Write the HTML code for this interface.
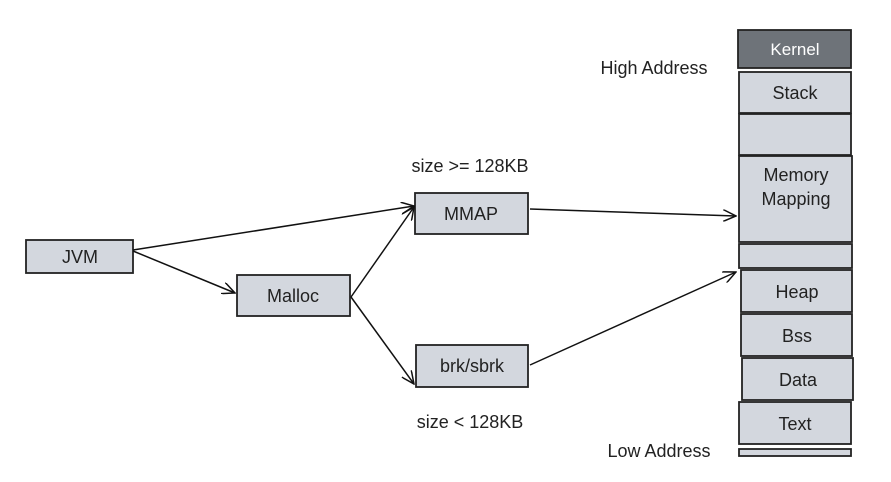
<!DOCTYPE html>
<html><head><style>body{margin:0;background:#fff}svg{display:block}</style></head><body>
<svg width="891" height="482" xmlns="http://www.w3.org/2000/svg" font-family="Liberation Sans, sans-serif" font-size="18" fill="#222">
<defs><marker id="a" markerWidth="14" markerHeight="12" refX="13" refY="6" orient="auto" markerUnits="userSpaceOnUse"><path d="M0,0 L13,6 L0,12" fill="none" stroke="#111" stroke-width="1.5"/></marker></defs>
<g stroke="#222" stroke-width="1.8" fill="#d3d7de">
<rect x="738" y="30" width="113" height="38" fill="#6e7379"/>
<rect x="739" y="72" width="112" height="41"/>
<rect x="739" y="114" width="112" height="41"/>
<rect x="739" y="156" width="113" height="86"/>
<rect x="739" y="244" width="113" height="24"/>
<rect x="741" y="270" width="111" height="42"/>
<rect x="741" y="314" width="111" height="42"/>
<rect x="742" y="358" width="111" height="42"/>
<rect x="739" y="402" width="112" height="42"/>
<rect x="739" y="449" width="112" height="7"/>
<rect x="26" y="240" width="107" height="33"/>
<rect x="237" y="275" width="113" height="41"/>
<rect x="415" y="193" width="113" height="41"/>
<rect x="416" y="345" width="112" height="42"/>
</g>
<g stroke="#111" stroke-width="1.5" fill="none" marker-end="url(#a)">
<line x1="133" y1="250" x2="414" y2="206"/>
<line x1="133" y1="251" x2="235" y2="293"/>
<line x1="351" y1="297" x2="414" y2="207"/>
<line x1="351" y1="297" x2="414" y2="384"/>
<line x1="530" y1="209" x2="736" y2="216"/>
<line x1="530" y1="365" x2="736" y2="272"/>
</g>
<g text-anchor="middle">
<text x="795" y="55" fill="#fff" font-size="17">Kernel</text>
<text x="795" y="99">Stack</text>
<text x="796" y="181">Memory</text>
<text x="796" y="205">Mapping</text>
<text x="797" y="298">Heap</text>
<text x="797" y="342">Bss</text>
<text x="798" y="386">Data</text>
<text x="795" y="430">Text</text>
<text x="80" y="263">JVM</text>
<text x="293" y="302">Malloc</text>
<text x="471" y="220">MMAP</text>
<text x="472" y="372">brk/sbrk</text>
<text x="654" y="74">High Address</text>
<text x="659" y="457">Low Address</text>
<text x="470" y="172">size &gt;= 128KB</text>
<text x="470" y="428">size &lt; 128KB</text>
</g>
</svg>
</body></html>
